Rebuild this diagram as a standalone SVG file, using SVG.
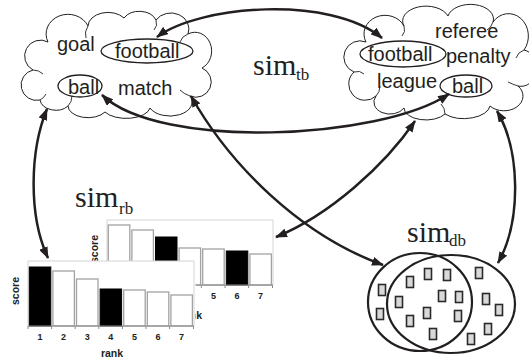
<svg xmlns="http://www.w3.org/2000/svg" width="529" height="358" viewBox="0 0 529 358">
<style>
.cloud{fill:#fff;stroke:#231f20;stroke-width:1}
.curl{fill:none;stroke:#231f20;stroke-width:0.9}
.ell{fill:none;stroke:#231f20;stroke-width:1.3}
.word{font-family:"Liberation Sans",Arial,sans-serif;font-size:20px;fill:#231f20}
.sim{font-family:"Liberation Serif","Times New Roman",serif;font-size:30px;fill:#231f20}
.sub{font-family:"Liberation Serif","Times New Roman",serif;font-size:17px;fill:#231f20}
.conn{fill:none;stroke:#231f20;stroke-width:2.5;marker-start:url(#ah);marker-end:url(#ah)}
.frame{fill:#fff;stroke:#d4d4d4;stroke-width:1}
.axis{stroke:#8a8a8a;stroke-width:1;fill:none}
.wb{fill:#fff;stroke:#a3a3a3;stroke-width:1.3}
.bb{fill:#000;stroke:#000;stroke-width:1}
.lbl{font-family:"Liberation Sans",Arial,sans-serif;font-weight:bold;font-size:9px;fill:#222;text-anchor:middle}
.ax{font-family:"Liberation Sans",Arial,sans-serif;font-weight:bold;font-size:10.5px;fill:#222;text-anchor:middle}
.venn{fill:none;stroke:#231f20;stroke-width:2.2}
.sq{fill:#d9d9d9;stroke:#2a2a2a;stroke-width:1.6}
</style>
<defs>
<marker id="ah" viewBox="0 0 12 9" refX="11" refY="4.5" markerWidth="12" markerHeight="9" markerUnits="userSpaceOnUse" orient="auto-start-reverse">
<path d="M0,0 L12,4.5 L0,9 Z" fill="#231f20"/>
</marker>
</defs>

<g id="cloud-left">
<path class="cloud" d="M48,42 A20,18 0 0 1 88,26 A20,14 0 0 1 124,18 A18,14 0 0 1 156,20 A18,16 0 0 1 188,34 A16,18 0 0 1 202,68 A14,14 0 0 1 190,96 A22,14 0 0 1 150,108 A24,12 0 0 1 105,112 A20,12 0 0 1 68,106 A16,12 0 0 1 40,100 A14,14 0 0 1 33,70 A14,14 0 0 1 48,42 Z"/>
<path class="curl" d="M88,26 q-4,6 -2,12 M156,20 q2,6 -2,10 M188,34 q-6,2 -8,8 M190,96 q-6,-2 -10,-6 M68,106 q4,-4 4,-10 M40,100 q4,-2 6,-6 M33,70 q6,0 10,4"/>
<text class="word" x="57" y="51">goal</text>
<ellipse class="ell" cx="147" cy="51" rx="46" ry="12"/>
<text class="word" x="115" y="58">football</text>
<ellipse class="ell" cx="80" cy="86" rx="22" ry="11"/>
<text class="word" x="68" y="94">ball</text>
<text class="word" x="118" y="95">match</text>
</g>

<g id="cloud-right">
<path class="cloud" d="M366,42 A18,16 0 0 1 404,26 A22,14 0 0 1 448,16 A22,14 0 0 1 493,22 A16,18 0 0 1 524,50 A14,16 0 0 1 518,86 A18,14 0 0 1 490,106 A26,14 0 0 1 445,114 A22,12 0 0 1 404,108 A16,12 0 0 1 376,96 A14,14 0 0 1 354,72 A14,14 0 0 1 366,42 Z"/>
<path class="curl" d="M404,26 q2,6 -2,10 M493,22 q-2,6 -6,8 M524,50 q-6,2 -8,8 M518,86 q-6,-2 -10,-4 M445,114 q0,-6 -4,-10 M376,96 q4,-4 4,-10 M354,72 q6,-2 10,2"/>
<text class="word" x="435" y="38">referee</text>
<ellipse class="ell" cx="403" cy="54" rx="43" ry="13"/>
<text class="word" x="368" y="61">football</text>
<text class="word" x="446" y="63">penalty</text>
<text class="word" x="377" y="88">league</text>
<ellipse class="ell" cx="466" cy="86" rx="26" ry="11"/>
<text class="word" x="452" y="93">ball</text>
</g>

<g id="chart-back" transform="translate(107,220)">
<rect x="-22" y="-1" width="188" height="102" fill="#fff"/>
<path class="frame" d="M0,65 V0 H166 V65"/>
<rect class="wb" x="1.3" y="5" width="21.5" height="60"/>
<rect class="wb" x="24.9" y="10" width="21.5" height="55"/>
<rect class="bb" x="48.5" y="17" width="21.5" height="48"/>
<rect class="wb" x="72.1" y="28" width="21.5" height="37"/>
<rect class="wb" x="95.7" y="29" width="21.5" height="36"/>
<rect class="bb" x="119.3" y="31" width="21.5" height="34"/>
<rect class="wb" x="142.9" y="34" width="21.5" height="31"/>
<path class="axis" d="M0,65 H166 M0,65 v3 M23.6,65 v3 M47.2,65 v3 M70.8,65 v3 M94.4,65 v3 M118,65 v3 M141.6,65 v3 M165.5,65 v3"/>
<text class="lbl" x="12" y="79">1</text>
<text class="lbl" x="35.6" y="79">2</text>
<text class="lbl" x="59.2" y="79">3</text>
<text class="lbl" x="82.8" y="79">4</text>
<text class="lbl" x="106.4" y="79">5</text>
<text class="lbl" x="130" y="79">6</text>
<text class="lbl" x="153.6" y="79">7</text>
<text class="ax" x="95" y="99" style="text-anchor:end">rank</text>
<text class="ax" transform="translate(-9,29) rotate(-90)">score</text>
</g>

<g id="chart-front" transform="translate(28,261)">
<rect x="0" y="0" width="167.5" height="97" fill="#fff"/>
<path class="frame" d="M0,65 V0 H166 V65"/>
<rect class="bb" x="1.3" y="6" width="21.5" height="59"/>
<rect class="wb" x="24.9" y="10" width="21.5" height="55"/>
<rect class="wb" x="48.5" y="18" width="21.5" height="47"/>
<rect class="bb" x="72.1" y="28" width="21.5" height="37"/>
<rect class="wb" x="95.7" y="29" width="21.5" height="36"/>
<rect class="wb" x="119.3" y="31" width="21.5" height="34"/>
<rect class="wb" x="142.9" y="34" width="21.5" height="31"/>
<path class="axis" d="M0,65 H166 M0,65 v3 M23.6,65 v3 M47.2,65 v3 M70.8,65 v3 M94.4,65 v3 M118,65 v3 M141.6,65 v3 M165.5,65 v3"/>
<text class="lbl" x="12" y="79">1</text>
<text class="lbl" x="35.6" y="79">2</text>
<text class="lbl" x="59.2" y="79">3</text>
<text class="lbl" x="82.8" y="79">4</text>
<text class="lbl" x="106.4" y="79">5</text>
<text class="lbl" x="130" y="79">6</text>
<text class="lbl" x="153.6" y="79">7</text>
<text class="ax" x="84" y="96">rank</text>
<text class="ax" transform="translate(-9,30) rotate(-90)">score</text>
</g>

<g id="venn">
<ellipse class="venn" cx="420" cy="302" rx="52" ry="49"/>
<ellipse class="venn" cx="451" cy="304" rx="64" ry="49"/>
<g class="sq">
<rect x="378.5" y="284.5" width="7" height="11"/>
<rect x="376.5" y="308.5" width="7" height="11"/>
<rect x="395.5" y="296.5" width="7" height="11"/>
<rect x="406.5" y="276.5" width="7" height="11"/>
<rect x="406.5" y="315.5" width="7" height="11"/>
<rect x="424.5" y="268.5" width="7" height="11"/>
<rect x="423.5" y="307.5" width="7" height="11"/>
<rect x="429.5" y="328.5" width="7" height="11"/>
<rect x="443.5" y="269.5" width="7" height="11"/>
<rect x="438.5" y="290.5" width="7" height="11"/>
<rect x="455.5" y="291.5" width="7" height="11"/>
<rect x="454.5" y="310.5" width="7" height="11"/>
<rect x="475.5" y="267.5" width="7" height="11"/>
<rect x="482.5" y="293.5" width="7" height="11"/>
<rect x="495.5" y="304.5" width="7" height="11"/>
<rect x="484.5" y="323.5" width="7" height="11"/>
<rect x="467.5" y="333.5" width="7" height="11"/>
</g>
</g>

<g id="labels">
<text class="sim" x="253" y="75">sim</text><text class="sub" x="296" y="80">tb</text>
<text class="sim" x="75" y="207">sim</text><text class="sub" x="119" y="214">rb</text>
<text class="sim" x="407" y="242">sim</text><text class="sub" x="449" y="246">db</text>
</g>

<g id="connectors">
<path class="conn" d="M157,37 C200,5 330,-5 382,38"/>
<path class="conn" d="M102,95 C160,150 380,140 449,94"/>
<path class="conn" d="M47,109 C30,150 28,215 48,258"/>
<path class="conn" d="M191,96 C230,165 300,235 383,265"/>
<path class="conn" d="M415,121 C385,165 330,215 276,237"/>
<path class="conn" d="M497,111 C520,150 522,220 498,263"/>
</g>
</svg>
